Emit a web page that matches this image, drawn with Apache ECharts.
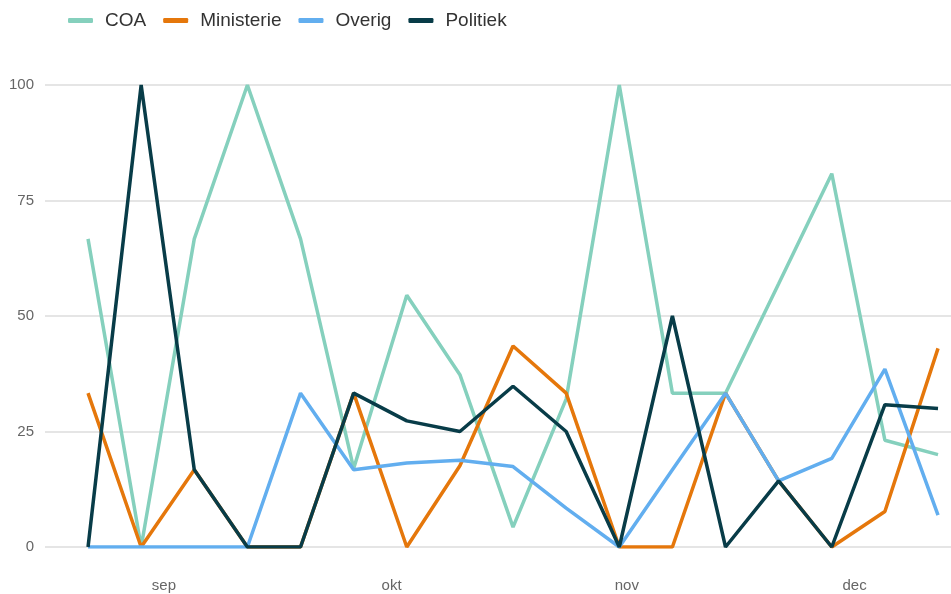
<!DOCTYPE html>
<html>
<head>
<meta charset="utf-8">
<script src="https://cdn.jsdelivr.net/npm/echarts@6/dist/echarts.min.js"></script>
<style>html,body{margin:0;padding:0;background:#fff}#c{width:951px;height:594px}</style>
</head>
<body>
<div id="c"></div>
<script>
const weeks = ['2022-08-22','2022-08-29','2022-09-05','2022-09-12','2022-09-19','2022-09-26','2022-10-03','2022-10-10','2022-10-17','2022-10-24','2022-10-31','2022-11-07','2022-11-14','2022-11-21','2022-11-28','2022-12-05','2022-12-12'];
const coa        = [66.7, 0, 66.7, 100, 66.7, 17, 54.5, 37.3, 4.3, 32, 100, 33.3, 33.3, 57, 80.8, 23.1, 20];
const ministerie = [33.3, 0, 16.7, 0, 0, 33.3, 0, 17.6, 43.5, 33.3, 0, 0, 33.3, 14.3, 0, 7.7, 43];
const overig     = [0, 0, 0, 0, 33.3, 16.7, 18.2, 18.8, 17.4, 8.4, 0, 16.7, 33.3, 14.3, 19.2, 38.5, 6.9];
const politiek   = [0, 100, 16.7, 0, 0, 33.3, 27.3, 25, 34.8, 25, 0, 50, 0, 14.3, 0, 30.8, 30];
const monthTicks = ['2022-09-01','2022-10-01','2022-11-01','2022-12-01'];
const monthLabels = ['sep','okt','nov','dec'];
const yTicks = [0, 25, 50, 75, 100];

const DAY = 86400000;
const t = s => Date.parse(s);
const pair = arr => weeks.map((w, i) => [t(w), arr[i]]);
const chart = echarts.init(document.getElementById('c'));
const monthVals = monthTicks.map(t);
const font = 'Liberation Sans, Arial, sans-serif';
chart.setOption({
  animation: false,
  legend: {
    left: 63, top: 6,
    icon: 'roundRect', itemWidth: 25, itemHeight: 5, itemGap: 17,
    textStyle: { fontSize: 19, color: '#333', fontFamily: font, padding: [0, 0, 0, 7] },
    data: ['COA', 'Ministerie', 'Overig', 'Politiek']
  },
  grid: { left: 45, right: 0, top: 85, bottom: 47, containLabel: false },
  xAxis: {
    type: 'value',
    min: t(weeks[0]) - 5.67 * DAY,
    max: t(weeks[weeks.length - 1]) + 1.71 * DAY,
    axisLine: { show: false },
    axisTick: { show: false },
    splitLine: { show: false },
    axisLabel: {
      customValues: monthVals,
      formatter: v => { const i = monthVals.indexOf(v); return i >= 0 ? monthLabels[i] : ''; },
      color: '#666', fontSize: 15, margin: 31, fontFamily: font
    }
  },
  yAxis: {
    type: 'value', min: yTicks[0], max: yTicks[yTicks.length - 1], interval: 25,
    axisLine: { show: false }, axisTick: { show: false },
    splitLine: { lineStyle: { color: '#dddddd', width: 1.5 } },
    axisLabel: { color: '#666', fontSize: 15, margin: 11, fontFamily: font }
  },
  series: [
    { name: 'COA', type: 'line', data: pair(coa), symbol: 'none', lineStyle: { width: 3.5, color: '#85d0bd' }, itemStyle: { color: '#85d0bd' } },
    { name: 'Ministerie', type: 'line', data: pair(ministerie), symbol: 'none', lineStyle: { width: 3.5, color: '#e5770b' }, itemStyle: { color: '#e5770b' } },
    { name: 'Overig', type: 'line', data: pair(overig), symbol: 'none', lineStyle: { width: 3.5, color: '#62aeef' }, itemStyle: { color: '#62aeef' } },
    { name: 'Politiek', type: 'line', data: pair(politiek), symbol: 'none', lineStyle: { width: 3.5, color: '#083c48' }, itemStyle: { color: '#083c48' } }
  ]
});
</script>
</body>
</html>
